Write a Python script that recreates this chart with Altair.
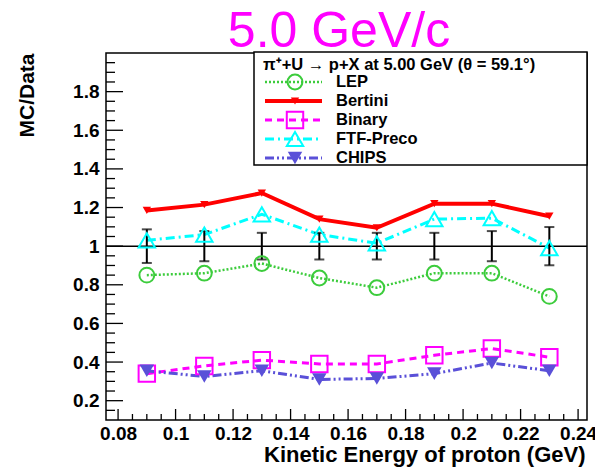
import altair as alt
import pandas as pd

# ---- data ----
energy = [0.09, 0.11, 0.13, 0.15, 0.17, 0.19, 0.21, 0.23]
lep = [0.85, 0.86, 0.91, 0.835, 0.785, 0.86, 0.86, 0.74]
bertini = [1.185, 1.215, 1.275, 1.14, 1.095, 1.22, 1.22, 1.155]
binary = [0.34, 0.38, 0.41, 0.39, 0.39, 0.435, 0.47, 0.425]
ftf = [1.03, 1.06, 1.165, 1.06, 1.015, 1.14, 1.145, 0.99]
chips = [0.355, 0.325, 0.355, 0.31, 0.315, 0.34, 0.395, 0.355]
data_err = [0.087, 0.078, 0.069, 0.069, 0.069, 0.069, 0.078, 0.099]

series_names = ["LEP", "Bertini", "Binary", "FTF-Preco", "CHIPS"]
series_values = [lep, bertini, binary, ftf, chips]

x_major = [0.08, 0.1, 0.12, 0.14, 0.16, 0.18, 0.2, 0.22, 0.24]
y_major = [0.2, 0.4, 0.6, 0.8, 1, 1.2, 1.4, 1.6, 1.8]
x_minor = [round(0.08 + 0.005 * i, 4) for i in range(33) if i % 4 != 0]
y_minor = [round(0.1 + 0.05 * i, 3) for i in range(1, 38) if i % 4 != 2]

title_text = "5.0 GeV/c"
legend_header = "\u03c0\u207a+U \u2192 p+X at 5.00 GeV (\u03b8 =  59.1\u00b0)"

# ---- styles ----
colors = ["#3ccc3c", "#ff0000", "#ff00ff", "#00ffff", "#5a50d8"]
dashes = [[2, 2], None, [7, 5], [9, 4, 2, 4], [9, 3, 2, 3, 2, 3]]
widths = [2.5, 4, 3, 3, 3]
shapes = ["circle", "triangle-down", "square", "triangle-up", "triangle-down"]
filled = [False, True, False, False, True]
sizes = [220, 70, 270, 270, 210]

W, H = 481, 367
FONT = "Liberation Sans"

xs = alt.Scale(domain=[0.0758, 0.2431], nice=False, zero=False)
ys = alt.Scale(domain=[0.1, 2.0], nice=False, zero=False)

xaxis = alt.Axis(
    title="Kinetic Energy of proton (GeV)", values=x_major, format="~g",
    labelFont=FONT, labelFontWeight="bold", labelFontSize=19, labelColor="black",
    labelPadding=4, labelFlush=False, labelOverlap=False,
    ticks=False, tickSize=0, domain=False, grid=False,
    titleFont=FONT, titleFontWeight="bold", titleFontSize=22, titleColor="black",
    titleX=479, titleY=41, titleAlign="right", titleBaseline="alphabetic",
)
yaxis = alt.Axis(
    title="MC/Data", values=y_major, format="~g",
    labelFont=FONT, labelFontWeight="bold", labelFontSize=19, labelColor="black",
    labelPadding=7, labelFlush=False, labelOverlap=False,
    ticks=False, tickSize=0, domain=False, grid=False,
    titleFont=FONT, titleFontWeight="bold", titleFontSize=21, titleColor="black",
    titleX=-79, titleY=0, titleAlign="right", titleAngle=270, titleBaseline="middle",
)

def X(f):
    return alt.X(f, type="quantitative", scale=xs, axis=xaxis)

def Y(f):
    return alt.Y(f, type="quantitative", scale=ys, axis=yaxis)

layers = []

# tick marks (inside frame, ROOT style)
layers.append(alt.Chart(pd.DataFrame({"t": x_major})).mark_rule(color="black", strokeWidth=1.3)
              .encode(x=X("t"), y=alt.value(H), y2=alt.value(H - 11)))
layers.append(alt.Chart(pd.DataFrame({"t": x_minor})).mark_rule(color="black", strokeWidth=1.3)
              .encode(x=X("t"), y=alt.value(H), y2=alt.value(H - 6)))
layers.append(alt.Chart(pd.DataFrame({"t": y_major})).mark_rule(color="black", strokeWidth=1.3)
              .encode(y=Y("t"), x=alt.value(0), x2=alt.value(17)))
layers.append(alt.Chart(pd.DataFrame({"t": y_minor})).mark_rule(color="black", strokeWidth=1.3)
              .encode(y=Y("t"), x=alt.value(0), x2=alt.value(9)))

# reference line at 1
layers.append(alt.Chart(pd.DataFrame({"v": [1]})).mark_rule(color="black", strokeWidth=1.5)
              .encode(y=Y("v")))

df = pd.DataFrame({"E": energy})
for n, v in zip(series_names, series_values):
    df[n] = v
df["lo"] = [1 - e for e in data_err]
df["hi"] = [1 + e for e in data_err]

# series lines
for i, n in enumerate(series_names):
    kw = dict(color=colors[i], strokeWidth=widths[i])
    if dashes[i]:
        kw["strokeDash"] = dashes[i]
    layers.append(alt.Chart(df).mark_line(**kw).encode(x=X("E"), y=Y(n)))

# data error bars at 1
layers.append(alt.Chart(df).mark_rule(color="black", strokeWidth=2)
              .encode(x=X("E"), y=Y("lo"), y2="hi"))
layers.append(alt.Chart(df).mark_tick(color="black", orient="horizontal", size=10, thickness=2)
              .encode(x=X("E"), y=Y("lo")))
layers.append(alt.Chart(df).mark_tick(color="black", orient="horizontal", size=10, thickness=2)
              .encode(x=X("E"), y=Y("hi")))

# markers
for i, n in enumerate(series_names):
    if filled[i]:
        mk = alt.Chart(df).mark_point(shape=shapes[i], filled=True, color=colors[i],
                                      size=sizes[i], opacity=1)
    else:
        mk = alt.Chart(df).mark_point(shape=shapes[i], filled=False, color=colors[i],
                                      size=sizes[i], strokeWidth=2, opacity=1)
    layers.append(mk.encode(x=X("E"), y=Y(n)))

# legend box
one = pd.DataFrame({"a": [0]})
layers.append(alt.Chart(one).mark_rect(fill="white", stroke="black", strokeWidth=1.5)
              .encode(x=alt.value(148), x2=alt.value(W), y=alt.value(-1), y2=alt.value(112)))
layers.append(alt.Chart(pd.DataFrame({"t": [legend_header]}))
              .mark_text(font=FONT, fontWeight="bold", fontSize=16.5, align="left",
                         baseline="middle", color="black")
              .encode(text="t:N", x=alt.value(157), y=alt.value(12)))
for i, n in enumerate(series_names):
    yc = 29 + 19 * i
    kw = dict(color=colors[i], strokeWidth=widths[i])
    if dashes[i]:
        kw["strokeDash"] = dashes[i]
    layers.append(alt.Chart(one).mark_rule(**kw)
                  .encode(x=alt.value(159), x2=alt.value(216), y=alt.value(yc)))
    if filled[i]:
        mk = alt.Chart(one).mark_point(shape=shapes[i], filled=True, color=colors[i],
                                       size=sizes[i], opacity=1)
    else:
        mk = alt.Chart(one).mark_point(shape=shapes[i], filled=False, color=colors[i],
                                       size=sizes[i], strokeWidth=2, opacity=1)
    layers.append(mk.encode(x=alt.value(189), y=alt.value(yc)))
    layers.append(alt.Chart(pd.DataFrame({"t": [n]}))
                  .mark_text(font=FONT, fontWeight="bold", fontSize=16.5, align="left",
                             baseline="middle", color="black")
                  .encode(text="t:N", x=alt.value(230), y=alt.value(yc)))

# big title
layers.append(alt.Chart(pd.DataFrame({"t": [title_text]}))
              .mark_text(font=FONT, fontSize=50, align="center", baseline="alphabetic",
                         color="#ff00ff")
              .encode(text="t:N", x=alt.value(233), y=alt.value(-6)))

chart = (
    alt.layer(*layers)
    .properties(width=W, height=H,
                autosize=alt.AutoSizeParams(type="none"),
                padding={"left": 106, "top": 53, "right": 8, "bottom": 47},
                background="white")
    .configure_view(stroke="black", strokeWidth=1.5)
)

chart.save("out.html", embed_options={"renderer": "svg", "actions": False})
